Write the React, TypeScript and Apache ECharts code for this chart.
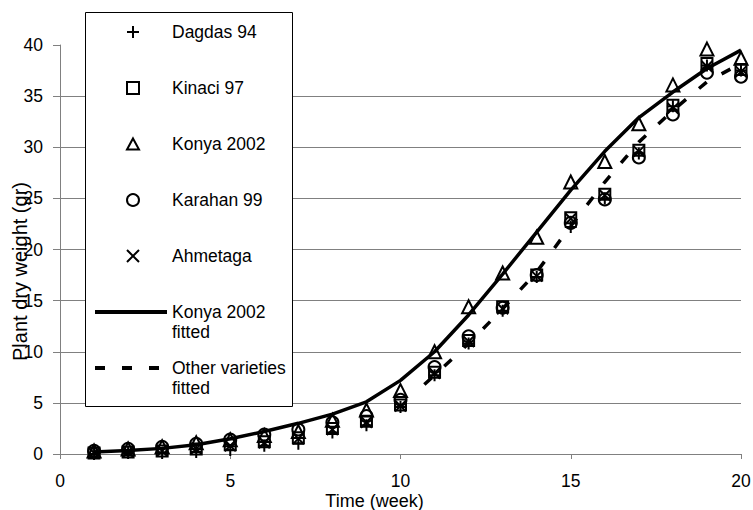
import React, { useEffect, useRef } from 'react';
import * as echarts from 'echarts';

const weeks = [1, 2, 3, 4, 5, 6, 7, 8, 9, 10, 11, 12, 13, 14, 15, 16, 17, 18, 19, 20];
const dagdas94 = [0.0, 0.1, 0.1, 0.2, 0.4, 0.8, 1.0, 2.1, 2.8, 4.6, 7.7, 10.8, 14.0, 17.3, 22.2, 25.0, 29.4, 34.0, 38.0, 37.5];
const kinaci97 = [0.1, 0.2, 0.3, 0.5, 0.9, 1.2, 1.6, 2.5, 3.2, 4.8, 8.0, 11.1, 14.4, 17.5, 23.1, 25.4, 29.7, 34.1, 38.2, 37.6];
const konya2002 = [0.3, 0.5, 0.7, 1.1, 1.4, 1.8, 2.2, 3.3, 4.3, 6.2, 10.0, 14.4, 17.7, 21.2, 26.6, 28.6, 32.3, 36.1, 39.6, 38.7];
const karahan99 = [0.3, 0.5, 0.7, 1.0, 1.4, 1.9, 2.4, 3.1, 3.7, 5.3, 8.5, 11.5, 14.3, 17.5, 22.6, 24.9, 29.0, 33.2, 37.3, 36.9];
const ahmetaga = [0.1, 0.2, 0.3, 0.5, 0.8, 1.1, 1.5, 2.4, 3.1, 4.7, 7.9, 11.0, 14.2, 17.4, 23.0, 25.3, 29.6, 33.8, 37.9, 37.4];

const konyaFitted = [0.2, 0.35, 0.55, 0.9, 1.5, 2.2, 3.0, 3.9, 5.1, 7.2, 10.0, 13.6, 17.6, 21.7, 25.8, 29.6, 32.9, 35.4, 37.7, 39.5];
const othersFitWeeks = [10.7, 11, 12, 13, 14, 15, 16, 17, 18, 19, 20];
const othersFitted = [6.8, 7.7, 10.8, 14.2, 17.8, 22.3, 26.6, 30.5, 33.6, 36.4, 38.2];

const xTicks = { min: 0, max: 20, interval: 5 };
const yTicks = { min: 0, max: 40, interval: 5 };

const FONT = '"Liberation Sans", Arial, sans-serif';
const PLUS = 'path://M6,0L6,12M0,6L12,6';
const CROSS = 'path://M0,0L12,12M12,0L0,12';
const SQUARE = 'path://M0,0L11,0L11,11L0,11Z';
const TRIANGLE = 'path://M6.5,0L13,12L0,12Z';

const pairs = (xs: number[], ys: number[]) => xs.map((x, i) => [x, ys[i]]);

const markerStyle = { color: 'transparent', borderColor: '#000', borderWidth: 2, opacity: 1 };

export default function App() {
  const ref = useRef<HTMLDivElement>(null);
  useEffect(() => {
    if (!ref.current) return;
    const chart = echarts.init(ref.current, undefined, { renderer: 'svg' });
    const scatter = (name: string, data: number[], symbol: string, size: any) => ({
      name,
      type: 'scatter',
      data: pairs(weeks, data),
      symbol,
      symbolSize: size,
      itemStyle: markerStyle,
      emphasis: { disabled: true },
      z: 3,
    });
    chart.setOption({
      animation: false,
      backgroundColor: '#fff',
      textStyle: { fontFamily: FONT },
      grid: { left: 60, right: 12, top: 45, bottom: 56, containLabel: false, outerBoundsMode: 'none' },
      graphic: [
        {
          type: 'rect',
          z: 1,
          shape: { x: 85.5, y: 12.5, width: 207, height: 394 },
          style: { fill: '#fff', stroke: '#000', lineWidth: 1 },
        },
      ],
      legend: [
        {
          orient: 'vertical',
          left: 126,
          top: 22,
          padding: 0,
          itemGap: 36,
          itemWidth: 12,
          itemHeight: 12,
          itemStyle: { borderWidth: 2, borderColor: '#000', color: 'transparent', opacity: 1 },
          textStyle: { fontSize: 17.5, color: '#000', lineHeight: 20, fontFamily: FONT, padding: [0, 0, 0, 28] },
          data: ['Dagdas 94', 'Kinaci 97', 'Konya 2002', 'Karahan 99', 'Ahmetaga'],
        },
        {
          orient: 'vertical',
          left: 93,
          top: 282,
          padding: 0,
          itemGap: -4,
          itemWidth: 72,
          itemHeight: 12,
          lineStyle: { width: 4 },
          itemStyle: { color: 'transparent', borderWidth: 0, opacity: 0 },
          textStyle: { fontSize: 17.5, color: '#000', lineHeight: 20, fontFamily: FONT },
          formatter: (name: string) =>
            name === 'Konya 2002 fitted' ? '\nKonya 2002\nfitted' : '\nOther varieties\nfitted',
          data: ['Konya 2002 fitted', 'Other varieties fitted'],
        },
      ],
      xAxis: {
        type: 'value',
        ...xTicks,
        name: 'Time (week)',
        nameLocation: 'middle',
        nameGap: 39,
        nameMoveOverlap: false,
        nameTextStyle: { fontSize: 18, lineHeight: 16, color: '#000', fontFamily: FONT, padding: [0, 52, 0, 0] },
        axisLine: { lineStyle: { color: '#808080', width: 1 } },
        axisTick: { show: true, length: 5, lineStyle: { color: '#808080' } },
        axisLabel: { fontSize: 17.5, lineHeight: 17, color: '#000', margin: 18, fontFamily: FONT },
        splitLine: { show: false },
      },
      yAxis: {
        type: 'value',
        ...yTicks,
        name: 'Plant dry weight (gr)',
        nameLocation: 'middle',
        nameGap: 30,
        nameMoveOverlap: false,
        nameTextStyle: { fontSize: 20, color: '#000', fontFamily: FONT, padding: [0, 44, 0, 0] },
        axisLine: { show: true, lineStyle: { color: '#808080', width: 1 } },
        axisTick: { show: true, length: 7, lineStyle: { color: '#808080' } },
        axisLabel: { fontSize: 17.5, color: '#000', margin: 17, fontFamily: FONT },
        splitLine: { show: true, showMaxLine: false, lineStyle: { color: '#808080', width: 1 } },
      },
      series: [
        {
          name: 'Konya 2002 fitted',
          type: 'line',
          data: pairs(weeks, konyaFitted),
          showSymbol: false,
          symbol: 'none',
          lineStyle: { color: '#000', width: 3.5, type: 'solid' },
          itemStyle: { color: '#000' },
          emphasis: { disabled: true },
          z: 2,
        },
        {
          name: 'Other varieties fitted',
          type: 'line',
          data: pairs(othersFitWeeks, othersFitted),
          showSymbol: false,
          symbol: 'none',
          lineStyle: { color: '#000', width: 3.5, type: [10, 17] },
          itemStyle: { color: '#000' },
          emphasis: { disabled: true },
          z: 2,
        },
        scatter('Dagdas 94', dagdas94, PLUS, 12),
        scatter('Kinaci 97', kinaci97, SQUARE, 11),
        scatter('Konya 2002', konya2002, TRIANGLE, 13),
        scatter('Karahan 99', karahan99, 'circle', 12),
        scatter('Ahmetaga', ahmetaga, CROSS, 11),
      ],
    });
    return () => chart.dispose();
  }, []);
  return <div ref={ref} style={{ width: 753, height: 510, position: 'absolute', left: 0, top: 0 }} />;
}
